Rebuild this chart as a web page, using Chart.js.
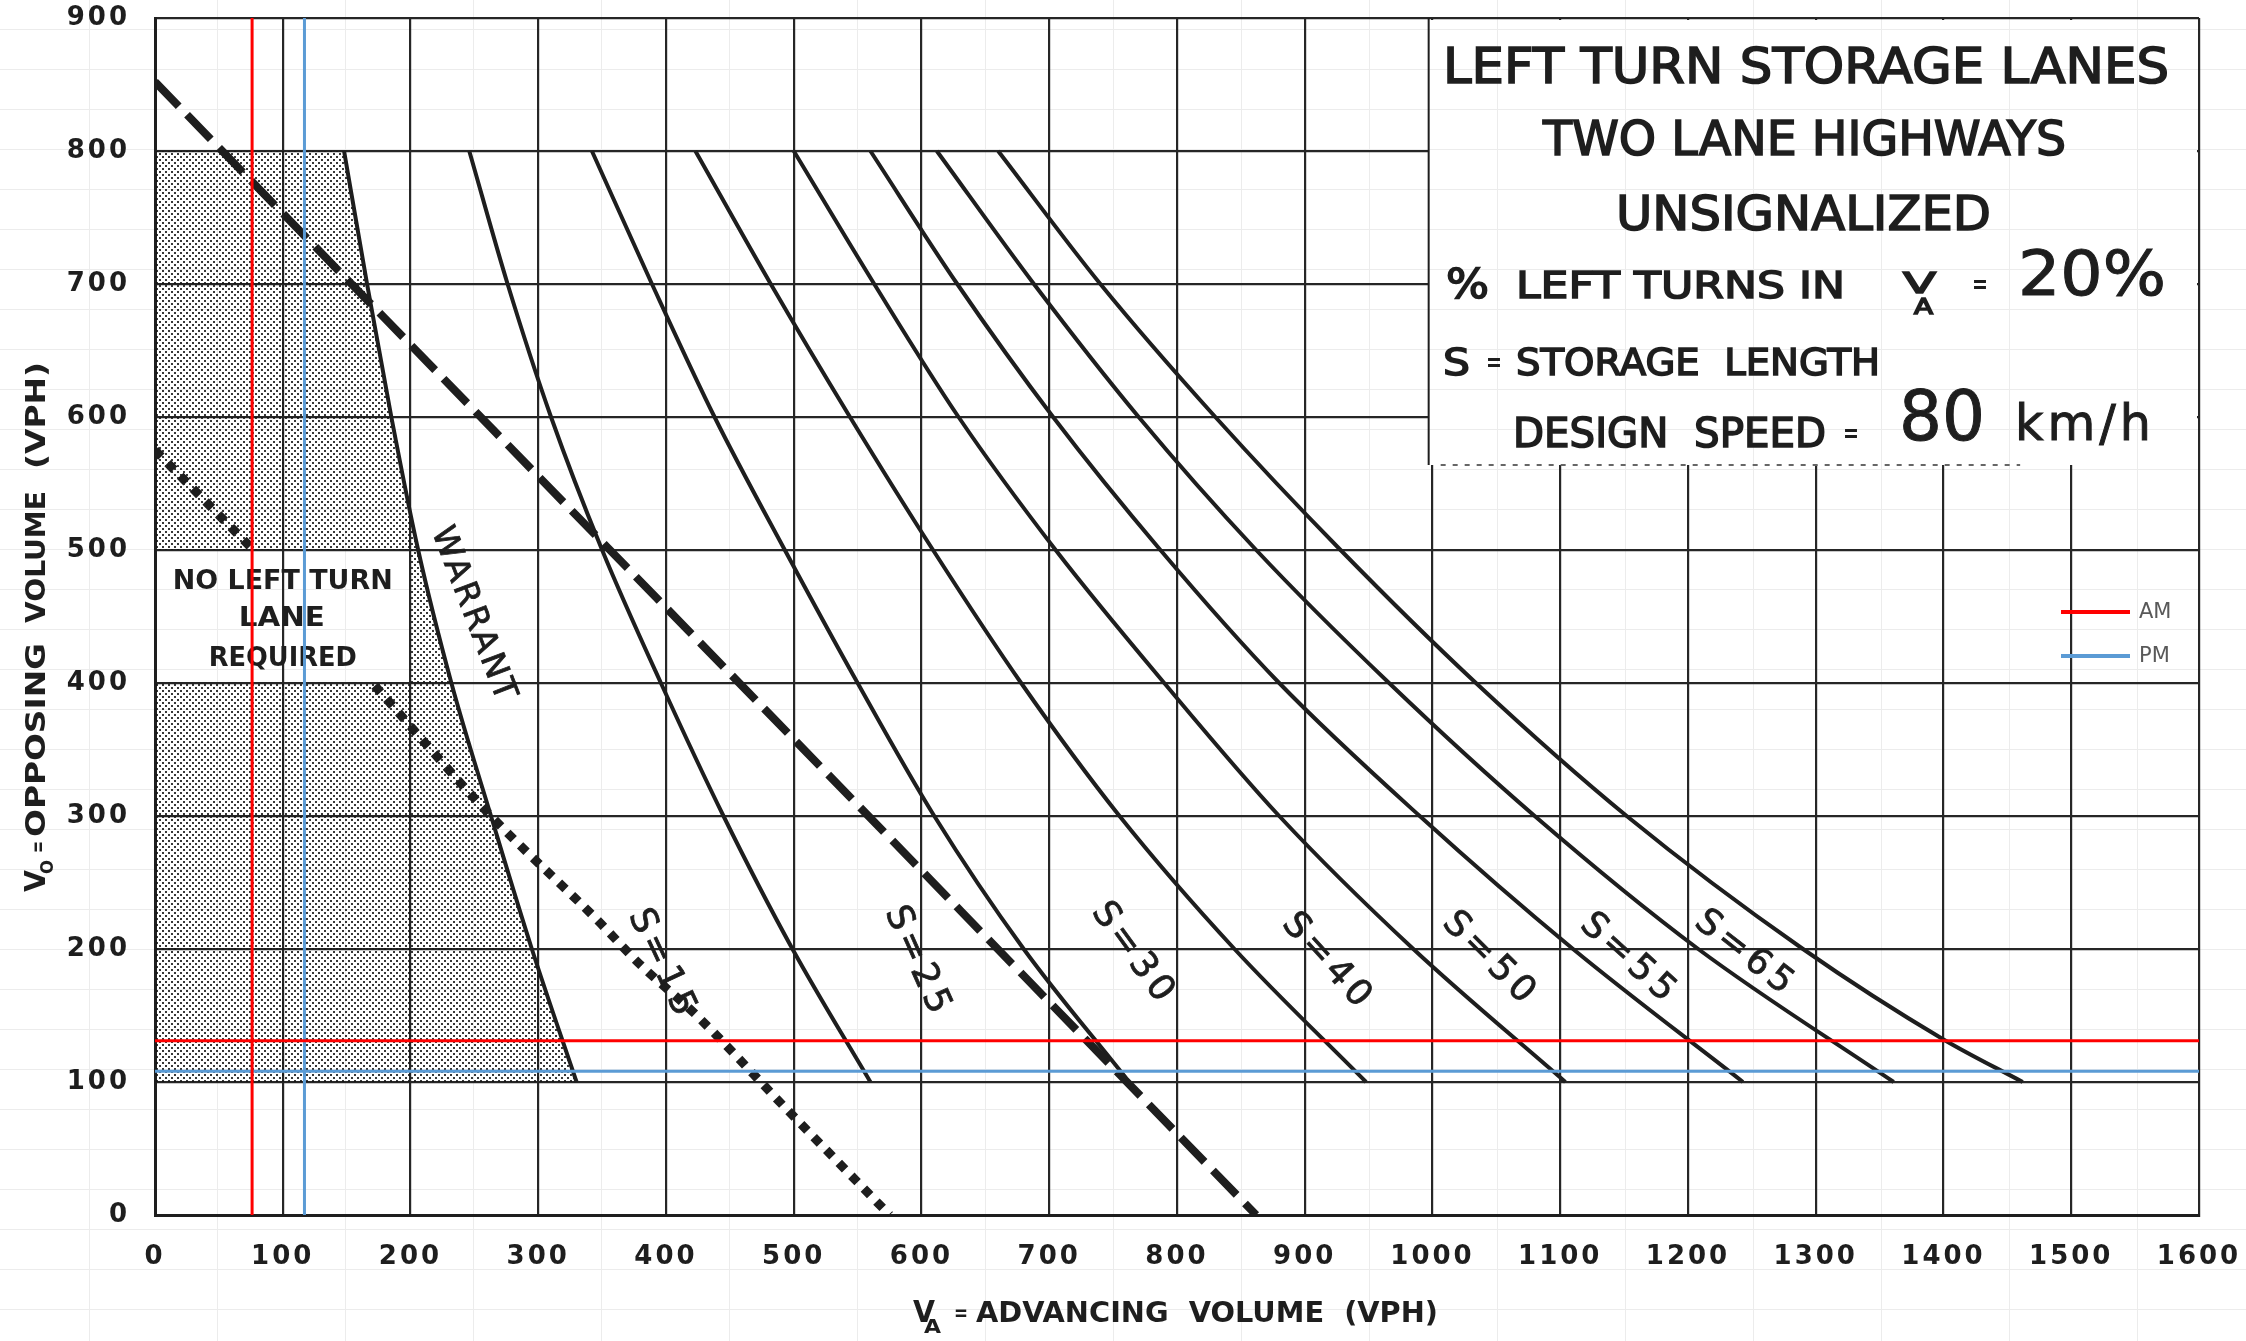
<!DOCTYPE html>
<html>
<head>
<meta charset="utf-8">
<script src="https://cdn.jsdelivr.net/npm/chart.js@4.4.1/dist/chart.umd.min.js"></script>
<style>
html, body { margin: 0; padding: 0; }
body {
    width: 2246px;
    height: 1341px;
    overflow: hidden;
    background-color: #fff;
    /* faint spreadsheet cells behind the pasted chart */
    background-image: linear-gradient(to right, #ececec 1px, transparent 1px),
                      linear-gradient(to bottom, #ececec 1px, transparent 1px);
    background-size: 128px 40px;
    background-position: 89px 29px;
}
.storage-chart { position: relative; width: 2246px; height: 1341px; }
</style>
</head>
<body>
<div class="storage-chart">
    <canvas id="storageChart" width="2246" height="1341"></canvas>
</div>

<script>
// curves: [advancing vph, opposing vph]
const warrant = [[148, 800], [166, 700], [185, 600], [206, 500], [232, 400], [263, 300], [295, 200], [330, 100]];
const s15 = [[246, 800], [276, 700], [310, 600], [350, 500], [396, 400], [445, 300], [499, 200], [560, 100]];
const s25 = [[342, 800], [389, 700], [438, 600], [493, 500], [550, 400], [610, 300], [680, 200], [760, 103]];
const s30 = [[423, 800], [482, 700], [544, 600], [609, 500], [678, 400], [755, 300], [845, 200], [948, 100]];
const s40 = [[500, 800], [563, 700], [629, 600], [705, 500], [790, 400], [880, 300], [985, 200], [1104, 100]];
const s50 = [[560, 800], [628, 700], [703, 600], [787, 500], [880, 400], [990, 300], [1110, 200], [1243, 100]];
const s55 = [[612, 800], [688, 700], [770, 600], [862, 500], [966, 400], [1080, 300], [1208, 200], [1361, 100]];
const s65 = [[660, 800], [740, 700], [830, 600], [928, 500], [1034, 400], [1152, 300], [1290, 200], [1400, 132], [1462, 100]];
const dashedLine = [[0, 852], [862, 0]];
const dottedUpper = [[0, 575], [75, 502]];
const dottedLower = [[172, 398], [263, 300], [346, 222], [379, 189], [424, 150], [494, 80], [575, 0]];

const storageCurves = [s15, s25, s30, s40, s50, s55, s65];
const storageLabels = ['S=15', 'S=25', 'S=30', 'S=40', 'S=50', 'S=55', 'S=65'];
const storageLabelAt = [[397, 188], [597, 190], [766, 196], [918, 190], [1045, 192], [1154, 192], [1245, 196]];

// study volumes
const peakNames = ['AM', 'PM'];
const peakAdvancing = [76, 117];
const peakOpposing = [131, 108];

// shaded area and its unshaded note window (vph)
const shadeTop = 800;
const shadeBottom = 100;
const noteWindow = [0, 200, 400, 500];
const titleBox = [997, 564];

const INK = '#1e1e1e';
const PEAK_COLORS = ['#ff0000', '#5b9bd5'];
const LABEL_ANGLES = [65, 66, 54, 48, 45, 42, 38];
const FONT = '"DejaVu Sans", sans-serif';

function pts(arr) {
    return arr.map(p => ({ x: p[0], y: p[1] }));
}

function stipple(ctx) {
    const c = document.createElement('canvas');
    c.width = 6;
    c.height = 6;
    const g = c.getContext('2d');
    g.fillStyle = 'rgba(20,20,20,0.85)';
    g.fillRect(0, 0, 2, 2);
    g.fillRect(3, 3, 2, 2);
    return ctx.createPattern(c, 'repeat');
}

function txt(ctx, s, x, y, size, opts) {
    opts = opts || {};
    ctx.save();
    ctx.font = (opts.weight || 'normal') + ' ' + size + 'px ' + FONT;
    ctx.fillStyle = opts.color || INK;
    ctx.strokeStyle = opts.color || INK;
    ctx.textAlign = opts.align || 'left';
    ctx.textBaseline = opts.baseline || 'alphabetic';
    ctx.letterSpacing = opts.spacing || '0px';
    ctx.translate(x, y);
    if (opts.angle) ctx.rotate(opts.angle * Math.PI / 180);
    if (opts.width) {
        const w = ctx.measureText(s).width;
        ctx.scale(opts.width / w, 1);
    }
    ctx.fillText(s, 0, 0);
    if (opts.stroke) {
        ctx.lineWidth = opts.stroke;
        ctx.strokeText(s, 0, 0);
    }
    ctx.restore();
}

const decorations = {
    id: 'decorations',
    beforeDraw(chart) {
        chart.ctx.letterSpacing = '3px';
    },
    beforeDatasetsDraw(chart) {
        const { ctx, scales: { x, y } } = chart;
        ctx.letterSpacing = '0px';
        // title box hides the grid
        const bl = x.getPixelForValue(titleBox[0]);
        const br = x.getPixelForValue(1600);
        const bt = y.getPixelForValue(900);
        const bb = y.getPixelForValue(titleBox[1]);
        ctx.clearRect(bl, bt + 2, br - bl - 2, bb - bt - 2);
        ctx.save();
        ctx.strokeStyle = INK;
        ctx.lineWidth = 2;
        ctx.beginPath();
        ctx.moveTo(bl, bt);
        ctx.lineTo(bl, bb);
        ctx.stroke();
        ctx.setLineDash([5, 7]);
        ctx.strokeStyle = '#666';
        ctx.beginPath();
        ctx.moveTo(bl + 12, bb);
        ctx.lineTo(x.getPixelForValue(1460), bb);
        ctx.stroke();
        ctx.restore();

        // note in the shaded area
        const cx = x.getPixelForValue((noteWindow[0] + noteWindow[1]) / 2);
        txt(ctx, 'NO LEFT TURN', cx - 110, y.getPixelForValue(476), 27, { weight: 'bold', width: 220, baseline: 'middle' });
        txt(ctx, 'LANE', cx - 44, y.getPixelForValue(448), 27, { weight: 'bold', width: 86, baseline: 'middle' });
        txt(ctx, 'REQUIRED', cx - 74, y.getPixelForValue(418), 27, { weight: 'bold', width: 148, baseline: 'middle' });
    },
    afterDraw(chart) {
        const { ctx, scales: { x, y } } = chart;
        ctx.letterSpacing = '0px';

        // curve labels
        storageLabels.forEach((s, i) => {
            const p = storageLabelAt[i];
            txt(ctx, s, x.getPixelForValue(p[0]), y.getPixelForValue(p[1]), 36,
                { align: 'center', baseline: 'middle', angle: LABEL_ANGLES[i], spacing: '5px', stroke: 0.8 });
        });
        txt(ctx, 'WARRANT', x.getPixelForValue(249), y.getPixelForValue(451), 33,
            { align: 'center', baseline: 'middle', angle: 69, spacing: '3px', stroke: 0.8 });

        // title block
        const heavy = { stroke: 1.6 };
        txt(ctx, 'LEFT TURN STORAGE LANES', 1443, 83, 50, Object.assign({ width: 726 }, heavy));
        txt(ctx, 'TWO LANE HIGHWAYS', 1543, 155, 48, Object.assign({ width: 523 }, heavy));
        txt(ctx, 'UNSIGNALIZED', 1616, 230, 48, Object.assign({ width: 375 }, heavy));
        txt(ctx, '%', 1446, 298, 40, Object.assign({ width: 43 }, heavy));
        txt(ctx, 'LEFT TURNS IN', 1516, 298, 38, Object.assign({ width: 329 }, heavy));
        txt(ctx, 'V', 1903, 293, 28, Object.assign({ width: 33 }, heavy));
        txt(ctx, 'A', 1914, 314, 22, Object.assign({ width: 19 }, heavy));
        txt(ctx, '=', 1972, 293, 26, { weight: 'bold', width: 16 });
        txt(ctx, '20%', 2018, 295, 62, { width: 148, stroke: 1 });
        txt(ctx, 'S', 1443, 375, 37, Object.assign({ width: 27 }, heavy));
        txt(ctx, '=', 1486, 371, 26, { weight: 'bold', width: 16 });
        txt(ctx, 'STORAGE  LENGTH', 1516, 375, 37, Object.assign({ width: 364 }, heavy));
        txt(ctx, 'DESIGN  SPEED', 1513, 447, 40, Object.assign({ width: 313 }, heavy));
        txt(ctx, '=', 1843, 442, 26, { weight: 'bold', width: 16 });
        txt(ctx, '80', 1899, 440, 69, { width: 86, stroke: 1 });
        txt(ctx, 'km/h', 2015, 440, 49, { width: 140, spacing: '4px', stroke: 1 });

        // axis titles
        txt(ctx, 'V', 913, 1322, 30, { weight: 'bold', width: 22 });
        txt(ctx, 'A', 924, 1333, 19, { weight: 'bold', width: 17 });
        txt(ctx, '=', 954, 1320, 22, { weight: 'bold', width: 14 });
        txt(ctx, 'ADVANCING  VOLUME  (VPH)', 976, 1322, 29, { weight: 'bold', width: 462 });

        ctx.save();
        ctx.translate(45, 892);
        ctx.rotate(-Math.PI / 2);
        txt(ctx, 'V', 0, 0, 29, { weight: 'bold', width: 22 });
        txt(ctx, 'O', 18, 8, 18, { weight: 'bold', width: 14 });
        txt(ctx, '=', 39, 0, 22, { weight: 'bold', width: 12 });
        txt(ctx, 'OPPOSING', 55, 0, 27, { weight: 'bold', width: 194 });
        txt(ctx, 'VOLUME', 269, 0, 27, { weight: 'bold', width: 132 });
        txt(ctx, '(VPH)', 423, 0, 27, { weight: 'bold', width: 107 });
        ctx.restore();

        // legend for the study volumes
        peakNames.forEach((name, i) => {
            const ly = 612 + i * 44;
            ctx.save();
            ctx.strokeStyle = PEAK_COLORS[i];
            ctx.lineWidth = 4;
            ctx.beginPath();
            ctx.moveTo(2061, ly);
            ctx.lineTo(2130, ly);
            ctx.stroke();
            ctx.restore();
            txt(ctx, name, 2139, ly + 1, 21, { color: '#595959', baseline: 'middle' });
        });
    }
};

function createStorageChart() {
    const ctx = document.getElementById('storageChart').getContext('2d');
    const dots = stipple(ctx);
    const line = (data, extra) => Object.assign({
        data: pts(data),
        showLine: true,
        borderColor: INK,
        borderWidth: 4,
        pointRadius: 0,
        fill: false,
        cubicInterpolationMode: 'monotone',
        order: 2
    }, extra || {});

    // shaded "no lane" area, split round the note window
    const shadeUpper = [[0, shadeTop]].concat(warrant.filter(p => p[1] >= noteWindow[3]));
    const shadeMiddle = [[noteWindow[1], noteWindow[3]]].concat(warrant.filter(p => p[1] <= noteWindow[3] && p[1] >= noteWindow[2]));
    const shadeLower = [[0, noteWindow[2]]].concat(warrant.filter(p => p[1] <= noteWindow[2]));
    const shade = (data, base) => line(data, {
        borderWidth: 0, backgroundColor: dots, fill: { value: base }, order: 10, cubicInterpolationMode: 'default'
    });

    const datasets = [
        shade(shadeUpper, noteWindow[3]),
        shade(shadeMiddle, noteWindow[2]),
        shade(shadeLower, shadeBottom),
        line(warrant),
        line(dashedLine, { borderWidth: 8, borderDash: [34, 12] }),
        line(dottedUpper, { borderWidth: 9, borderDash: [9, 9] }),
        line(dottedLower, { borderWidth: 9, borderDash: [9, 9] })
    ];
    storageCurves.forEach(c => datasets.push(line(c)));

    peakNames.forEach((name, i) => {
        datasets.push(line([[peakAdvancing[i], 0], [peakAdvancing[i], 900]],
            { borderColor: PEAK_COLORS[i], borderWidth: 3, order: 0 }));
        datasets.push(line([[0, peakOpposing[i]], [1600, peakOpposing[i]]],
            { borderColor: PEAK_COLORS[i], borderWidth: 3, order: 0 }));
    });

    const axis = (max, side) => ({
        type: 'linear',
        min: 0,
        max: max,
        ticks: {
            stepSize: 100,
            autoSkip: false,
            maxRotation: 0,
            color: INK,
            padding: side === 'y' ? 25 : 27,
            font: { family: FONT, size: 26, weight: 'bold' },
            callback: v => String(v)
        },
        grid: { color: '#262626', lineWidth: 2.2, drawTicks: false },
        border: { color: INK, width: 3 },
        afterFit: function (scale) {
            // no label overhang: the plot frame sits where the drawing has it
            scale.paddingLeft = 0;
            scale.paddingRight = 0;
            scale.paddingTop = 0;
            scale.paddingBottom = 0;
            if (side === 'y') scale.width = 155;
            else scale.height = 126;
        }
    });

    return new Chart(ctx, {
        type: 'scatter',
        data: { datasets: datasets },
        options: {
            responsive: false,
            animation: false,
            devicePixelRatio: 1,
            layout: { padding: { top: 18, right: 47, left: 0, bottom: 0 } },
            scales: { x: axis(1600, 'x'), y: axis(900, 'y') },
            plugins: {
                legend: { display: false },
                tooltip: { enabled: false }
            }
        },
        plugins: [decorations]
    });
}

document.addEventListener('DOMContentLoaded', createStorageChart);
</script>
</body>
</html>
